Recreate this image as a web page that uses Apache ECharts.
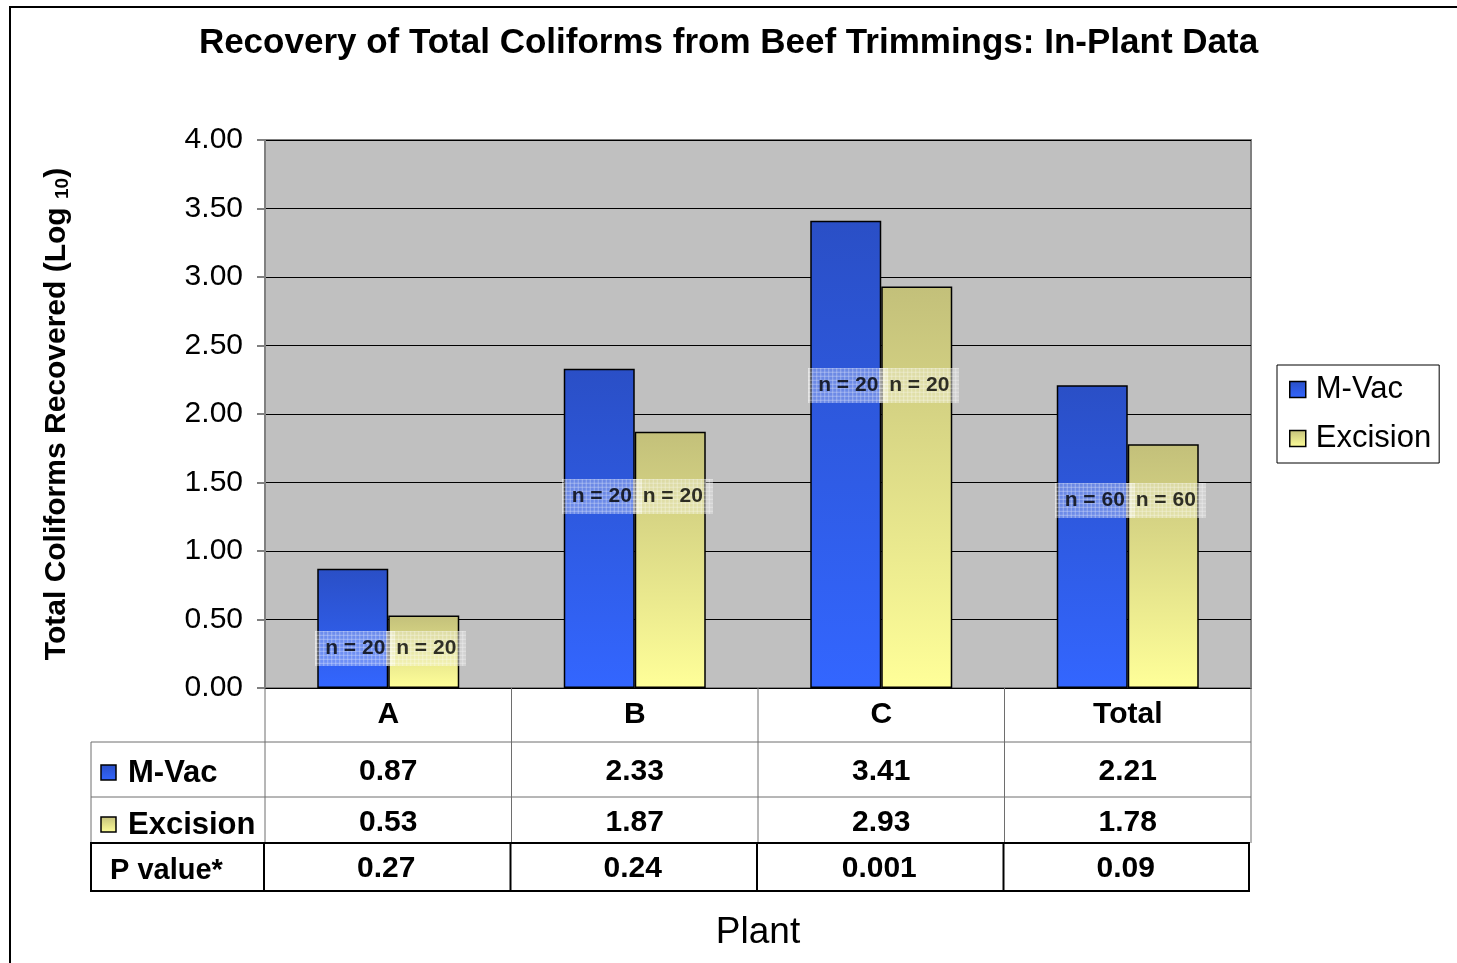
<!DOCTYPE html>
<html>
<head>
<meta charset="utf-8">
<script src="https://cdn.jsdelivr.net/npm/echarts@6/dist/echarts.min.js"></script>
<style>
html,body{margin:0;padding:0;background:#fff}
#main{width:1457px;height:963px}
</style>
</head>
<body>
<div id="main"></div>
<script>
// chart data
var categories = ['A', 'B', 'C', 'Total'];
var mvac = [0.87, 2.33, 3.41, 2.21];
var excision = [0.53, 1.87, 2.93, 1.78];
var pValues = ['0.27', '0.24', '0.001', '0.09'];
var sampleN = [20, 20, 20, 60];
var nLabelLevel = [0.29, 1.40, 2.21, 1.37]; // height (log10) of the "n =" tags

var FONT = '"Liberation Sans", Arial, sans-serif';
var G = {left: 265, top: 140, width: 986, height: 548};

function blueFill() {
    return new echarts.graphic.LinearGradient(0, 0, 0, 1, [
        {offset: 0, color: '#2a4fc6'}, {offset: 1, color: '#3366ff'}]);
}
function yellowFill() {
    return new echarts.graphic.LinearGradient(0, 0, 0, 1, [
        {offset: 0, color: '#c3c07a'}, {offset: 1, color: '#ffff99'}]);
}

// hatched translucent tag behind the n = labels
var hatch = document.createElement('canvas');
hatch.width = 80; hatch.height = 35;
(function () {
    var c = hatch.getContext('2d');
    c.fillStyle = 'rgba(255,255,255,0.38)';
    c.fillRect(0, 0, 80, 35);
    c.fillStyle = 'rgba(255,255,255,0.45)';
    for (var x = 0; x < 80; x += 4) c.fillRect(x, 0, 1, 35);
    for (var y = 0; y < 35; y += 4) c.fillRect(0, y, 80, 1);
})();

function tagSeries(offsetX) {
    return {
        type: 'scatter',
        symbolSize: 1,
        itemStyle: {color: 'rgba(0,0,0,0)'},
        silent: true,
        z: 5,
        data: categories.map(function (c, i) { return [i, nLabelLevel[i]]; }),
        label: {
            show: true,
            position: 'inside',
            offset: [offsetX, 0],
            formatter: function (p) { return 'n = ' + sampleN[p.dataIndex]; },
            fontFamily: FONT,
            fontWeight: 'bold',
            fontSize: 21,
            color: '#000',
            width: 74,
            align: 'center',
            padding: [7, 3],
            backgroundColor: {image: hatch}
        }
    };
}

var myChart = echarts.init(document.getElementById('main'));
var option = {
    backgroundColor: '#fff',
    animation: false,
    textStyle: {fontFamily: FONT},
    title: {
        text: 'Recovery of Total Coliforms from Beef Trimmings: In-Plant Data',
        left: 'center',
        top: 21,
        textStyle: {fontFamily: FONT, fontSize: 35, fontWeight: 'bold', color: '#000'}
    },
    legend: {
        orient: 'vertical',
        left: 1277,
        top: 365,
        padding: [9, 8, 9, 12],
        itemGap: 18,
        itemWidth: 16,
        itemHeight: 16,
        backgroundColor: '#fff',
        borderColor: '#000',
        borderWidth: 1,
        borderRadius: 0,
        textStyle: {fontFamily: FONT, fontSize: 31, color: '#000', padding: [0, 0, 0, 5]},
        data: [
            {name: 'M-Vac', icon: 'rect', itemStyle: {color: blueFill(), borderColor: '#000', borderWidth: 1.5}},
            {name: 'Excision', icon: 'rect', itemStyle: {color: yellowFill(), borderColor: '#000', borderWidth: 1.5}}
        ]
    },
    grid: {
        left: G.left, top: G.top, width: G.width, height: G.height,
        show: true,
        backgroundColor: '#c0c0c0',
        borderColor: '#808080',
        borderWidth: 2
    },
    xAxis: {
        type: 'category',
        data: categories,
        name: 'Plant',
        nameLocation: 'middle',
        nameGap: 226,
        nameTextStyle: {fontFamily: FONT, fontSize: 37, color: '#000'},
        axisLine: {show: true, lineStyle: {color: '#000', width: 1}},
        axisTick: {show: false},
        axisLabel: {margin: 12, fontFamily: FONT, fontSize: 30, fontWeight: 'bold', color: '#000'}
    },
    yAxis: {
        type: 'value',
        min: 0,
        max: 4,
        interval: 0.5,
        name: '{m|Total Coliforms Recovered (Log }{s|10}{m|)}',
        nameLocation: 'middle',
        nameGap: 193,
        nameTextStyle: {
            rich: {
                m: {fontFamily: FONT, fontSize: 30, fontWeight: 'bold', color: '#000'},
                s: {fontFamily: FONT, fontSize: 19, fontWeight: 'bold', color: '#000', verticalAlign: 'bottom'}
            }
        },
        axisLine: {show: true, lineStyle: {color: '#808080', width: 2}},
        axisTick: {show: true, length: 8, lineStyle: {color: '#808080', width: 2}},
        axisLabel: {
            margin: 22,
            fontFamily: FONT, fontSize: 30, color: '#000',
            formatter: function (v) { return v.toFixed(2); }
        },
        splitLine: {lineStyle: {color: '#000', width: 1}}
    },
    series: [
        {
            name: 'M-Vac', type: 'bar', data: mvac,
            barWidth: 71, barGap: '0%',
            itemStyle: {color: blueFill(), borderColor: '#000', borderWidth: 1.5}
        },
        {
            name: 'Excision', type: 'bar', data: excision,
            barWidth: 71,
            itemStyle: {color: yellowFill(), borderColor: '#000', borderWidth: 1.5}
        },
        tagSeries(-33),
        tagSeries(38)
    ]
};
myChart.setOption(option);

// data table under the plot, built from the same arrays
function buildTable() {
    var els = [];
    var band = G.width / categories.length;
    var right = G.left + G.width;
    var rows = [688, 742, 797, 843, 891];
    var tLeft = 91;
    var grey = '#6e6e6e';
    function line(x1, y1, x2, y2, color, w) {
        els.push({type: 'line', shape: {x1: x1, y1: y1, x2: x2, y2: y2},
            style: {stroke: color, lineWidth: w}, z: 10});
    }
    function text(str, x, y, align, size) {
        els.push({type: 'text', x: x, y: y, z: 11,
            style: {text: str, fontFamily: FONT, fontWeight: 'bold', fontSize: size || 30,
                fill: '#000', align: align || 'center', verticalAlign: 'middle'}});
    }
    // outer chart frame
    els.push({type: 'rect', shape: {x: 10, y: 7, width: 1600, height: 1100},
        style: {fill: null, stroke: '#000', lineWidth: 2}, z: 10});
    // upper part (header + two series rows): thin grey rules
    for (var i = 0; i <= categories.length; i++) {
        line(G.left + i * band, rows[0], G.left + i * band, rows[3], grey, 1);
    }
    line(tLeft, rows[1], right, rows[1], grey, 1);
    line(tLeft, rows[2], right, rows[2], grey, 1);
    line(tLeft, rows[1], tLeft, rows[3], grey, 1);
    // p value row: heavy black box
    els.push({type: 'rect', shape: {x: tLeft, y: rows[3], width: right - 2 - tLeft, height: rows[4] - rows[3]},
        style: {fill: null, stroke: '#000', lineWidth: 2}, z: 10});
    for (i = 0; i < categories.length; i++) {
        line(G.left - 1 + i * band, rows[3], G.left - 1 + i * band, rows[4], '#000', 2);
    }
    // row headers with keys
    els.push({type: 'rect', shape: {x: 101, y: 765, width: 15, height: 15},
        style: {fill: blueFill(), stroke: '#000', lineWidth: 1.5}, z: 10});
    els.push({type: 'rect', shape: {x: 101, y: 817, width: 15, height: 15},
        style: {fill: yellowFill(), stroke: '#000', lineWidth: 1.5}, z: 10});
    text('M-Vac', 128, 773, 'left', 31);
    text('Excision', 128, 825, 'left', 31);
    text('P value*', 110, 871, 'left', 29);
    // values
    for (i = 0; i < categories.length; i++) {
        var cx = myChart.convertToPixel({xAxisIndex: 0}, i);
        text(mvac[i].toFixed(2), cx, 772);
        text(excision[i].toFixed(2), cx, 823);
        text(pValues[i], cx - 2, 869);
    }
    myChart.setOption({graphic: els});
}
buildTable();
</script>
</body>
</html>
